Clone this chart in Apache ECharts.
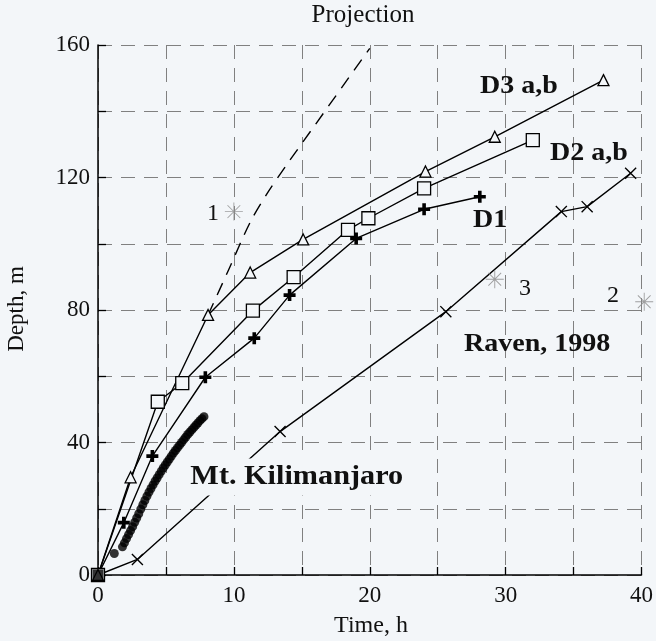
<!DOCTYPE html>
<html>
<head>
<meta charset="utf-8">
<script src="https://cdn.jsdelivr.net/npm/echarts@6/dist/echarts.min.js"></script>
<style>
  html, body { margin: 0; padding: 0; background: #f3f6f9; }
  #chart { width: 656px; height: 641px; }
</style>
</head>
<body>
<div id="chart"></div>
<script>
// values (time in h, depth in m)
const d3ab = [[0, 0], [2.4, 29.5], [8.1, 78.5], [11.2, 91.3], [15.1, 101.3], [24.1, 121.8], [29.2, 132.3], [37.2, 149.4]]
const d2ab = [[0, 0], [4.4, 52.3], [6.2, 57.9], [11.4, 79.8], [14.4, 89.9], [18.4, 104.2], [19.9, 107.7], [24.0, 116.7], [32.0, 131.3]]
const d1 = [[0, 0], [1.9, 15.8], [4.0, 35.9], [7.9, 59.7], [11.5, 71.5], [14.1, 84.5], [19.0, 101.6], [24.0, 110.4], [28.1, 114.2]]
const raven = [[0, 0], [2.9, 4.7], [13.4, 43.3], [25.6, 79.5], [34.1, 109.7], [36.0, 111.2], [39.2, 121.3]]
const projection = [[8.1, 78.5], [9.6, 92], [11.2, 106.5], [12.5, 115.5], [14, 124.5], [16, 136], [18, 147.5], [20, 159]]
const kilimanjaro = [
  [1.2, 6.5], [1.8, 8.5], [1.95, 9.7], [2.1, 11], [2.25, 12.2], [2.4, 13.4], [2.55, 14.6], [2.7, 15.9],
  [2.85, 17.2], [3.0, 18.5], [3.15, 19.9], [3.3, 21.2], [3.45, 22.5], [3.6, 23.8], [3.75, 25], [3.9, 26.1],
  [4.05, 27.2], [4.2, 28.3], [4.35, 29.3], [4.5, 30.3], [4.65, 31.3], [4.8, 32.3], [4.95, 33.2], [5.1, 34.1],
  [5.25, 35], [5.4, 35.9], [5.55, 36.8], [5.7, 37.6], [5.85, 38.4], [6.0, 39.2], [6.15, 40], [6.3, 40.8],
  [6.45, 41.6], [6.6, 42.4], [6.75, 43.1], [6.9, 43.8], [7.05, 44.5], [7.2, 45.2], [7.35, 45.9], [7.5, 46.6],
  [7.65, 47.2], [7.8, 47.8]
]
const starPoints = [[10.0, 109.7], [40.2, 82.5], [29.2, 89.3]]
const starNames = ['1', '2', '3']
const xTicks = [0, 10, 20, 30, 40]
const yTicks = [0, 40, 80, 120, 160]

const BG = '#f3f6f9'
const serif = '"Liberation Serif", "Times New Roman", serif'

const plusPath = 'path://M7,0H13V7H20V13H13V20H7V13H0V7H7Z'
const crossPath = 'path://M0,1.6L1.6,0L20,18.4L18.4,20ZM18.4,0L20,1.6L1.6,20L0,18.4Z'
const starPath = 'path://M0,9.5H20V10.5H0ZM9.5,0H10.5V20H9.5ZM2.57,3.28L3.28,2.57L17.43,16.72L16.72,17.43ZM16.72,2.57L17.43,3.28L3.28,17.43L2.57,16.72Z'

function lineSeries(name, data, symbol, size, hollow) {
  return {
    name,
    type: 'line',
    data,
    symbol,
    symbolSize: size,
    showAllSymbol: true,
    lineStyle: { color: '#000', width: 1.4 },
    itemStyle: hollow
      ? { color: BG, borderColor: '#000', borderWidth: 1.3 }
      : { color: '#000', borderWidth: 0 },
    z: 3,
  }
}

function label(text, x, y, bold, size, extra) {
  return {
    type: 'text',
    x, y,
    scaleX: bold ? 1.12 : 1,
    z: 10,
    style: Object.assign({
      text,
      font: `${bold ? 'bold ' : ''}${size}px ${serif}`,
      fill: '#111',
      verticalAlign: 'middle',
    }, extra || {}),
  }
}

const chart = echarts.init(document.getElementById('chart'))

chart.setOption({
  backgroundColor: BG,
  animation: false,
  grid: { left: 98, top: 45, right: 13, bottom: 66 },
  xAxis: {
    type: 'value',
    min: 0, max: 40, interval: 5,
    axisLine: { lineStyle: { color: '#000', width: 1.5 } },
    axisTick: { inside: true, length: 8, lineStyle: { color: '#000', width: 1.3 } },
    axisLabel: {
      margin: 9,
      color: '#111',
      fontFamily: serif,
      fontSize: 23,
      formatter: v => xTicks.includes(v) ? String(v) : '',
    },
    splitLine: { show: true, lineStyle: { color: '#808080', width: 1, type: [14, 9] } },
  },
  yAxis: {
    type: 'value',
    min: 0, max: 160, interval: 20,
    axisLine: { show: true, lineStyle: { color: '#000', width: 1.5 } },
    axisTick: { show: true, inside: true, length: 8, lineStyle: { color: '#000', width: 1.3 } },
    axisLabel: {
      margin: 8,
      color: '#111',
      fontFamily: serif,
      fontSize: 23,
      formatter: v => yTicks.includes(v) ? String(v) : '',
    },
    splitLine: { show: true, lineStyle: { color: '#808080', width: 1, type: [14, 9] } },
  },
  series: [
    {
      name: 'Projection',
      type: 'line',
      data: projection,
      showSymbol: false,
      smooth: 0.3,
      lineStyle: { color: '#000', width: 1.4, type: [13, 9] },
      z: 2,
    },
    {
      name: 'Mt. Kilimanjaro',
      type: 'scatter',
      data: kilimanjaro,
      symbol: 'circle',
      symbolSize: 9,
      itemStyle: { color: '#000' },
      z: 2,
    },
    lineSeries('Raven, 1998', raven, crossPath, 12, false),
    lineSeries('D1', d1, plusPath, 12, false),
    lineSeries('D2 a,b', d2ab, 'rect', 13, true),
    lineSeries('D3 a,b', d3ab, 'triangle', 11, true),
    {
      name: 'origin',
      type: 'scatter',
      data: [[0, 0]],
      symbol: 'rect',
      symbolSize: 11,
      itemStyle: { color: '#000' },
      z: 5,
    },
    {
      name: 'points',
      type: 'scatter',
      data: starPoints.map((p, i) => ({ name: starNames[i], value: p })),
      symbol: starPath,
      symbolSize: 18,
      clip: false,
      itemStyle: { color: '#8a8a8a' },
      z: 4,
    },
  ],
  graphic: [
    { type: 'text', x: 363, y: 15, z: 10, style: { text: 'Projection', font: `25px ${serif}`, fill: '#111', align: 'center', verticalAlign: 'middle' } },
    { type: 'text', x: 371, y: 626, z: 10, style: { text: 'Time, h', font: `24px ${serif}`, fill: '#111', align: 'center', verticalAlign: 'middle' } },
    { type: 'text', x: 17, y: 309, rotation: Math.PI / 2, z: 10, style: { text: 'Depth, m', font: `23px ${serif}`, fill: '#111', align: 'center', verticalAlign: 'middle' } },
    label('D3 a,b', 480, 87, true, 25),
    label('D2 a,b', 550, 154, true, 25),
    label('D1', 473, 221, true, 25),
    label('Raven, 1998', 464, 345, true, 25),
    // the print breaks the Raven line behind this label
    label('Mt. Kilimanjaro', 187, 477, true, 27, { backgroundColor: BG, padding: [5, 3] }),
    label('1', 207, 214, false, 24),
    label('3', 519, 289, false, 24),
    label('2', 607, 296, false, 24),
  ],
})
</script>
</body>
</html>
